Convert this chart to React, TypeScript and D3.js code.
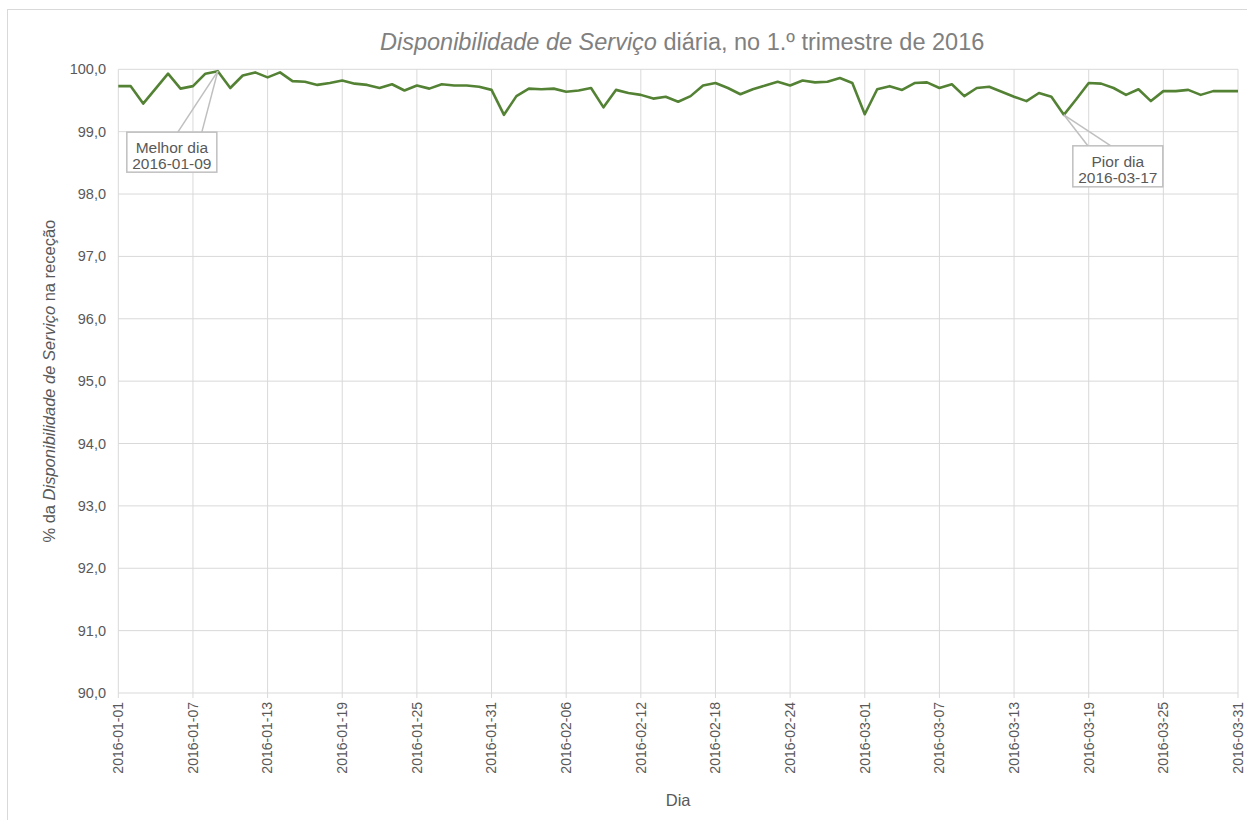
import React from "react";
import * as d3 from "d3";

const startDate = "2016-01-01";
const values: number[] = [
  99.73, 99.73, 99.45, 99.69, 99.93, 99.69, 99.73, 99.93, 99.97, 99.70,
  99.90, 99.95, 99.87, 99.95, 99.81, 99.80, 99.75, 99.78, 99.82, 99.77,
  99.75, 99.70, 99.76, 99.66, 99.74, 99.69, 99.76, 99.74, 99.74, 99.72,
  99.67, 99.27, 99.57, 99.69, 99.68, 99.69, 99.64, 99.66, 99.70, 99.39,
  99.67, 99.62, 99.59, 99.53, 99.56, 99.48, 99.57, 99.74, 99.78, 99.70,
  99.60, 99.68, 99.74, 99.80, 99.74, 99.82, 99.79, 99.80, 99.86, 99.78,
  99.28, 99.68, 99.73, 99.67, 99.78, 99.79, 99.70, 99.76, 99.57, 99.70,
  99.72, 99.64, 99.56, 99.49, 99.62, 99.56, 99.27, 99.52, 99.78, 99.77,
  99.70, 99.59, 99.68, 99.49, 99.65, 99.65, 99.67, 99.59, 99.65, 99.65,
  99.65,
];
const yTicks = [90, 91, 92, 93, 94, 95, 96, 97, 98, 99, 100];
const tickEvery = 6;
const bestLabel = ["Melhor dia", "2016-01-09"];
const worstLabel = ["Pior dia", "2016-03-17"];

const W = 1247;
const H = 820;
const M = { left: 118.3, right: 1238, top: 69.3, bottom: 693 };

export default function App() {
  const parse = d3.utcParse("%Y-%m-%d");
  const fmt = d3.utcFormat("%Y-%m-%d");
  const d0 = parse(startDate) as Date;
  const dates = values.map((_, i) => d3.utcDay.offset(d0, i));
  const x = d3.scaleUtc().domain([dates[0], dates[dates.length - 1]]).range([M.left, M.right]);
  const y = d3.scaleLinear().domain([90, 100]).range([M.bottom, M.top]);
  const line = d3
    .line<number>()
    .x((_, i) => x(dates[i]))
    .y((v) => y(v));
  const xTickDates = dates.filter((_, i) => i % tickEvery === 0);

  const bestIdx = values.indexOf(d3.max(values) as number);
  const worstIdx = values.lastIndexOf(d3.min(values) as number);
  const bx = x(dates[bestIdx]);
  const by = y(values[bestIdx]);
  const wx = x(dates[worstIdx]);
  const wy = y(values[worstIdx]);

  const grid = "#d9d9d9";
  const textCol = "#595959";
  const font = "'Liberation Sans', Arial, sans-serif";

  return (
    <svg
      width={W}
      height={H}
      style={{ position: "absolute", left: 0, top: 0, background: "#fff" }}
      fontFamily={font}
    >
      <rect x={7.5} y={9.5} width={1250} height={830} fill="#fff" stroke="#d9d9d9" strokeWidth={1} />
      {yTicks.map((t) => (
        <line key={"h" + t} x1={M.left} x2={M.right} y1={y(t)} y2={y(t)} stroke={grid} strokeWidth={1} />
      ))}
      {xTickDates.map((d, i) => (
        <line key={"v" + i} x1={x(d)} x2={x(d)} y1={M.top} y2={M.bottom + 5} stroke={grid} strokeWidth={1} />
      ))}
      {yTicks.map((t) => (
        <text key={"yl" + t} x={106} y={y(t)} dy="0.35em" textAnchor="end" fontSize={14.5} fill={textCol}>
          {t.toFixed(1).replace(".", ",")}
        </text>
      ))}
      {xTickDates.map((d, i) => (
        <text
          key={"xl" + i}
          transform={`translate(${x(d)},${M.bottom + 9}) rotate(-90)`}
          textAnchor="end"
          dy="0.35em"
          fontSize={14}
          fill={textCol}
        >
          {fmt(d)}
        </text>
      ))}
      <text x={(M.left + M.right) / 2 + 4} y={50} textAnchor="middle" fontSize={23.5} fill="#808080">
        <tspan fontStyle="italic">Disponibilidade de Serviço</tspan>
        <tspan> diária, no 1.º trimestre de 2016</tspan>
      </text>
      <text x={(M.left + M.right) / 2} y={806} textAnchor="middle" fontSize={16.5} fill={textCol}>
        Dia
      </text>
      <text
        transform={`translate(55,${(M.top + M.bottom) / 2}) rotate(-90)`}
        textAnchor="middle"
        fontSize={16.5}
        fill={textCol}
      >
        <tspan>% da </tspan>
        <tspan fontStyle="italic">Disponibilidade de Serviço</tspan>
        <tspan> na receção</tspan>
      </text>
      <path d={line(values) || ""} fill="none" stroke="#548235" strokeWidth={2.6} strokeLinejoin="round" />
      <g>
        <line x1={bx} y1={by} x2={bx - 40} y2={by + 61} stroke="#bfbfbf" strokeWidth={1.5} />
        <line x1={bx} y1={by} x2={bx - 16} y2={by + 61} stroke="#bfbfbf" strokeWidth={1.5} />
        <rect x={bx - 91} y={by + 61} width={90} height={40} fill="#fff" stroke="#bfbfbf" strokeWidth={1.5} />
        <text x={bx - 46} y={by + 82} textAnchor="middle" fontSize={15.5} fill={textCol}>
          {bestLabel[0]}
        </text>
        <text x={bx - 46} y={by + 98} textAnchor="middle" fontSize={15.5} fill={textCol}>
          {bestLabel[1]}
        </text>
      </g>
      <g>
        <line x1={wx} y1={wy} x2={wx + 24} y2={wy + 31} stroke="#bfbfbf" strokeWidth={1.5} />
        <line x1={wx} y1={wy} x2={wx + 47} y2={wy + 31} stroke="#bfbfbf" strokeWidth={1.5} />
        <rect x={wx + 9} y={wy + 31} width={90} height={41} fill="#fff" stroke="#bfbfbf" strokeWidth={1.5} />
        <text x={wx + 54} y={wy + 52} textAnchor="middle" fontSize={15.5} fill={textCol}>
          {worstLabel[0]}
        </text>
        <text x={wx + 54} y={wy + 68} textAnchor="middle" fontSize={15.5} fill={textCol}>
          {worstLabel[1]}
        </text>
      </g>
    </svg>
  );
}
